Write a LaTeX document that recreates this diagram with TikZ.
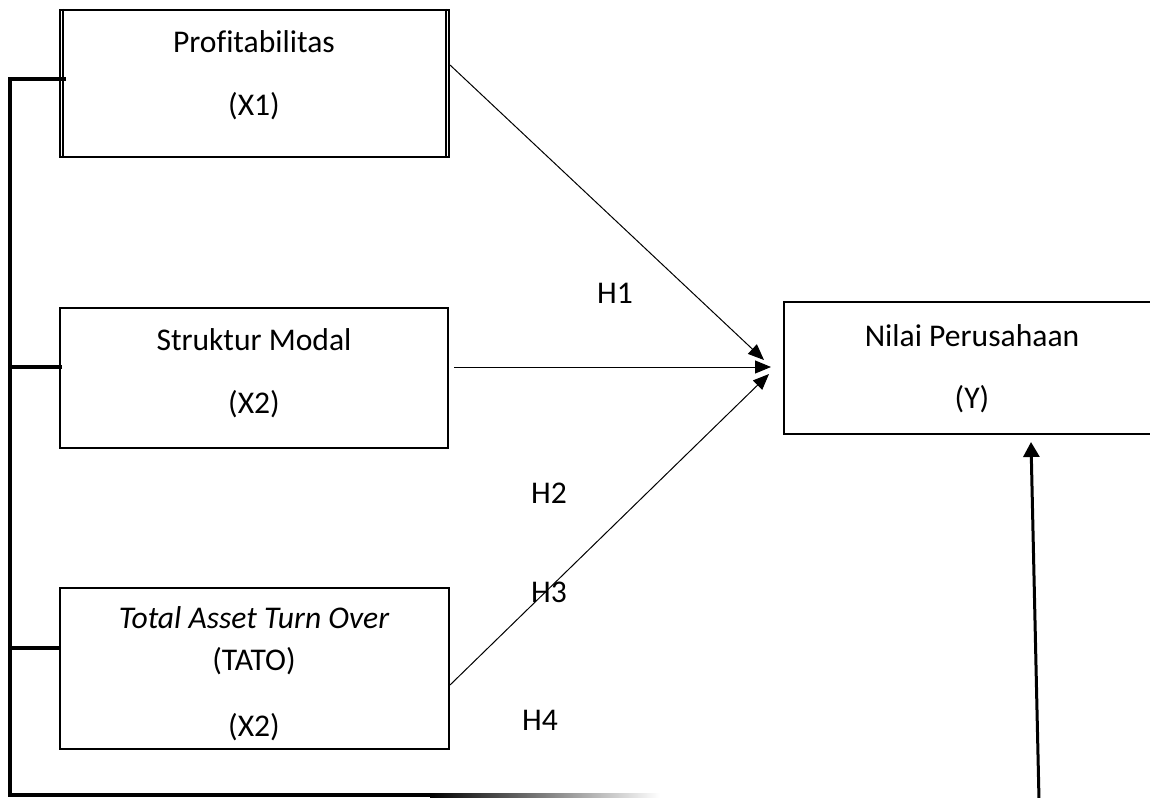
\documentclass[tikz,border=0pt]{standalone}
\usepackage{fontspec}
\setmainfont[Ligatures=NoCommon]{Carlito}
\usetikzlibrary{arrows.meta}
\begin{document}
\begin{tikzpicture}[x=1pt,y=-1pt,
  varbox/.style={draw,line width=2pt,inner sep=0pt},
  lbl/.style={font=\fontsize{31.6}{38}\selectfont,inner sep=0pt,anchor=base},
  thinarrow/.style={line width=1pt,-{Triangle[length=16pt,width=13pt]}},
  bracketline/.style={line width=4pt,line join=miter},
  thickarrow/.style={line width=3pt,-{Triangle[length=15pt,width=16pt]}}]
\useasboundingbox (0,0) rectangle (1150,797);
\clip (0,0) rectangle (1150,797);
% boxes
\node[varbox,minimum width=389pt,minimum height=147pt] (X1) at (254.5,83.5) {};
\draw[line width=1.2pt] ([xshift=4pt]X1.north west) -- ([xshift=4pt]X1.south west);
\draw[line width=1.2pt] ([xshift=-4pt]X1.north east) -- ([xshift=-4pt]X1.south east);
\node[varbox,minimum width=388pt,minimum height=140pt] (X2) at (254,378) {};
\node[varbox,minimum width=389pt,minimum height=161pt] (X3) at (254.5,668.5) {};
\node[varbox,minimum width=376pt,minimum height=132pt] (Y) at (972,368) {};
% texts
\node[lbl] (t1a) at (254,53) {Profitabilitas};
\node[lbl] (t1b) at (254,116) {(X1)};
\node[lbl] (t2a) at (254,350) {Struktur Modal};
\node[lbl] (t2b) at (254,413) {(X2)};
\node[lbl] (t3a) at (254,628) {\itshape Total Asset Turn Over};
\node[lbl] (t3b) at (254,670) {(TATO)};
\node[lbl] (t3c) at (254,736) {(X2)};
\node[lbl] (tya) at (972,346) {Nilai Perusahaan};
\node[lbl] (tyb) at (972,408) {(Y)};
\node[lbl] (h1) at (615,303) {H1};
\node[lbl] (h2) at (549,503) {H2};
\node[lbl] (h3) at (549,602) {H3};
\node[lbl] (h4) at (540,730) {H4};
% arrows to Y
\coordinate (s1) at ([yshift=18.5pt]X1.east);
\coordinate (e1) at ([xshift=-19pt,yshift=8pt]Y.west);
\coordinate (s2) at ([xshift=5pt,yshift=11pt]X2.east);
\coordinate (e2) at ([xshift=-12pt,yshift=1pt]Y.west);
\coordinate (s3) at ([yshift=-16.5pt]X3.east);
\coordinate (e3) at ([xshift=-14pt,yshift=-6pt]Y.west);
\draw[thinarrow] (s1) -- (e1);
\draw[thinarrow] (s2) -- (e2);
\draw[thinarrow] (s3) -- (e3);
% left bracket
\coordinate (b1) at ([xshift=7pt,yshift=4.5pt]X1.west);
\coordinate (b2) at ([xshift=3pt,yshift=11pt]X2.west);
\coordinate (b3) at ([yshift=20.5pt]X3.west);
\coordinate (bl) at (10,795);
\coordinate (be) at (432,795);
\draw[bracketline] (b1) -- (b1 -| bl) -- (bl) -- (be);
\draw[bracketline] (b2) -- (b2 -| bl);
\draw[bracketline] (b3) -- (b3 -| bl);
\shade[left color=black,right color=white] (430,793) rectangle (660,797);
% thick arrow up to Y
\coordinate (vb) at (1039,800);
\coordinate (vt) at ([xshift=59pt,yshift=-7pt]Y.south);
\draw[thickarrow] (vb) -- (vt);
\end{tikzpicture}
\end{document}
